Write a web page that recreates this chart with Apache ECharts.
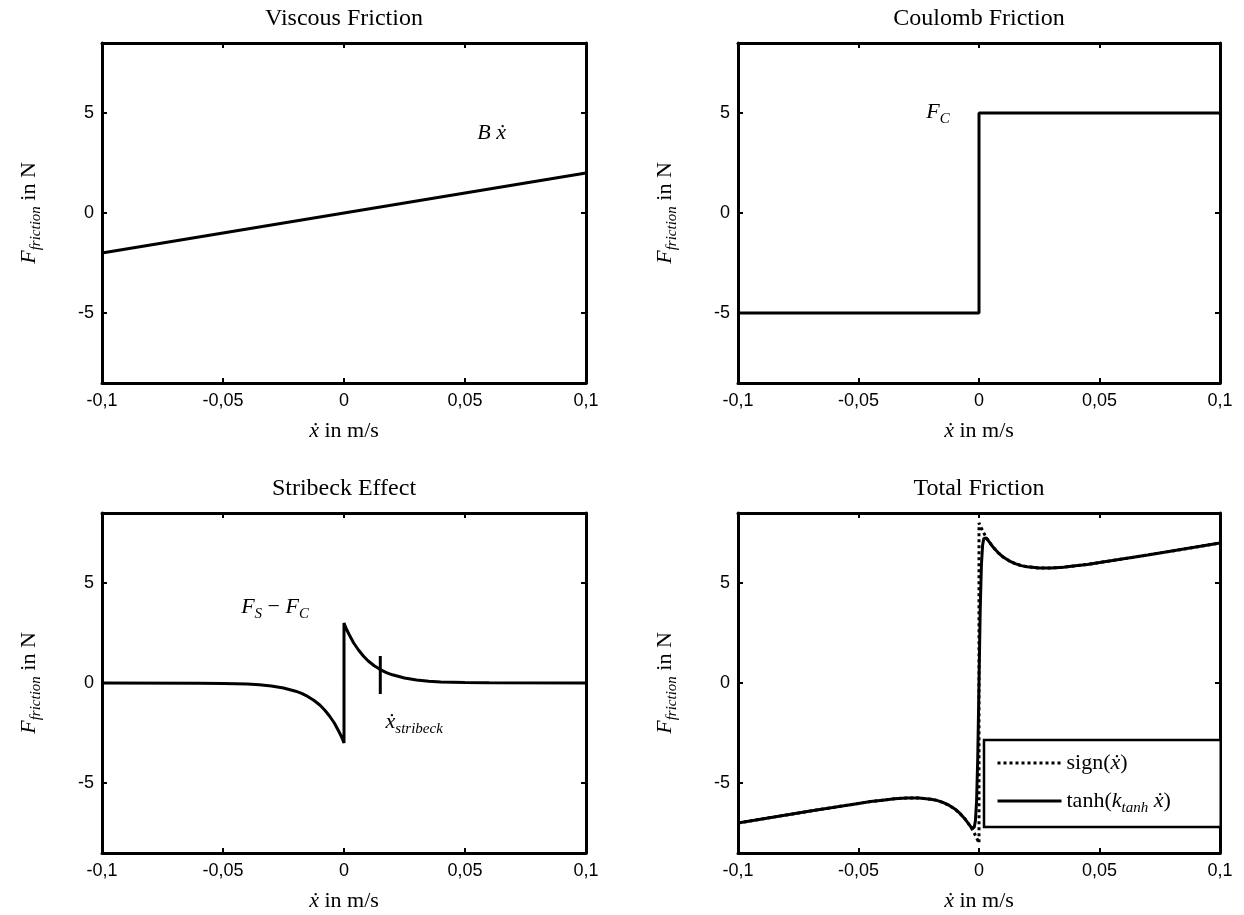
<!DOCTYPE html>
<html><head><meta charset="utf-8">
<script src="https://cdn.jsdelivr.net/npm/echarts@6/dist/echarts.min.js"></script>
<style>html,body{margin:0;padding:0;background:#fff}#c{width:1244px;height:915px}</style>
</head><body><div id="c"></div>
<script>
// ---------- data ----------
const titles = ['Viscous Friction', 'Coulomb Friction', 'Stribeck Effect', 'Total Friction'];
const xTickValues = [-0.1, -0.05, 0, 0.05, 0.1];
const xTickLabels = ['-0,1', '-0,05', '0', '0,05', '0,1'];
const yTickValues = [-5, 0, 5];
const yTickLabels = ['-5', '0', '5'];

const viscousX = [-0.1, 0.1];
const viscousY = [-2, 2];

const coulombX = [-0.1, 0, 0, 0.1];
const coulombY = [-5, -5, 5, 5];

const stribeckX = [-0.1, -0.06, -0.05, -0.04, -0.035, -0.03, -0.025, -0.02, -0.0175, -0.015, -0.0125, -0.01, -0.008, -0.006, -0.004, -0.002, -0.001, 0,
                   0, 0.001, 0.002, 0.004, 0.006, 0.008, 0.01, 0.0125, 0.015, 0.0175, 0.02, 0.025, 0.03, 0.035, 0.04, 0.05, 0.06, 0.1];
const stribeckY = [0, -0.01, -0.02, -0.05, -0.09, -0.15, -0.25, -0.41, -0.52, -0.67, -0.86, -1.1, -1.35, -1.65, -2.0, -2.45, -2.7, -3.0,
                   3.0, 2.7, 2.45, 2.0, 1.65, 1.35, 1.1, 0.86, 0.67, 0.52, 0.41, 0.25, 0.15, 0.09, 0.05, 0.02, 0.01, 0];
const stribeckMarkX = [0.015, 0.015];
const stribeckMarkY = [1.35, -0.55];

const totalTanhX = [-0.1, -0.09, -0.08, -0.07, -0.06, -0.05, -0.045, -0.04, -0.035, -0.03, -0.025, -0.02, -0.0175, -0.015, -0.0125, -0.01, -0.008, -0.006, -0.004, -0.003, -0.0025, -0.002, -0.0015, -0.001, -0.0005, 0,
                    0.0005, 0.001, 0.0015, 0.002, 0.0025, 0.003, 0.004, 0.006, 0.008, 0.01, 0.0125, 0.015, 0.0175, 0.02, 0.025, 0.03, 0.035, 0.04, 0.045, 0.05, 0.06, 0.07, 0.08, 0.09, 0.1];
const totalTanhY = [-7.0, -6.8, -6.6, -6.4, -6.21, -6.02, -5.93, -5.86, -5.79, -5.75, -5.75, -5.81, -5.87, -5.97, -6.11, -6.3, -6.51, -6.77, -7.09, -7.25, -7.29, -7.23, -6.9, -5.9, -3.64, 0,
                    3.64, 5.9, 6.9, 7.23, 7.29, 7.25, 7.09, 6.77, 6.51, 6.3, 6.11, 5.97, 5.87, 5.81, 5.75, 5.75, 5.79, 5.86, 5.93, 6.02, 6.21, 6.4, 6.6, 6.8, 7.0];

const totalSignX = [-0.1, -0.09, -0.08, -0.07, -0.06, -0.05, -0.045, -0.04, -0.035, -0.03, -0.025, -0.02, -0.0175, -0.015, -0.0125, -0.01, -0.008, -0.006, -0.004, -0.003, -0.002, -0.001, 0,
                    0, 0.001, 0.002, 0.003, 0.004, 0.006, 0.008, 0.01, 0.0125, 0.015, 0.0175, 0.02, 0.025, 0.03, 0.035, 0.04, 0.045, 0.05, 0.06, 0.07, 0.08, 0.09, 0.1];
const totalSignY = [-7.0, -6.8, -6.6, -6.4, -6.21, -6.02, -5.93, -5.86, -5.79, -5.75, -5.75, -5.81, -5.87, -5.97, -6.11, -6.3, -6.51, -6.77, -7.09, -7.28, -7.5, -7.74, -8.0,
                    8.0, 7.74, 7.5, 7.28, 7.09, 6.77, 6.51, 6.3, 6.11, 5.97, 5.87, 5.81, 5.75, 5.75, 5.79, 5.86, 5.93, 6.02, 6.21, 6.4, 6.6, 6.8, 7.0];

const annGrid = [0, 1, 2, 2];
const annX = [0.061, -0.017, -0.0285, 0.029];
const annY = [4.0, 5.05, 3.8, -1.95];
const annText = ['{i|B ẋ}', '{i|F}{s|C}', '{i|F}{s|S}{n| − }{i|F}{s|C}', '{i|ẋ}{s|stribeck}'];

const legendNames = ['sign', 'tanh'];
const legendTexts = ['{n|sign(}{i|ẋ}{n|)}', '{n|tanh(}{i|k}{s|tanh}{n| }{i|ẋ}{n|)}'];

// ---------- styles ----------
const SERIF = 'Liberation Serif';
const SANS = 'Liberation Sans';
const rich = {
  i: {fontFamily: SERIF, fontStyle: 'italic', fontSize: 22, lineHeight: 30, color: '#000'},
  n: {fontFamily: SERIF, fontSize: 22, lineHeight: 30, color: '#000'},
  s: {fontFamily: SERIF, fontStyle: 'italic', fontSize: 15, lineHeight: 16, verticalAlign: 'bottom', color: '#000'}
};
const grids = [
  {left: 102, top: 43, width: 484, height: 340},
  {left: 738, top: 43, width: 482, height: 340},
  {left: 102, top: 513, width: 484, height: 340},
  {left: 738, top: 513, width: 482, height: 340}
];
const pair = (xs, ys) => xs.map((x, i) => [x, ys[i]]);
const fmtX = v => { const i = xTickValues.findIndex(t => Math.abs(t - v) < 1e-9); return i >= 0 ? xTickLabels[i] : ''; };
const fmtY = v => { const i = yTickValues.findIndex(t => Math.abs(t - v) < 1e-9); return i >= 0 ? yTickLabels[i] : ''; };

const axLine = {show: true, onZero: false, lineStyle: {color: '#000', width: 3}};
const xAxes = [], yAxes = [];
grids.forEach((g, k) => {
  xAxes.push({
    type: 'value', gridIndex: k, position: 'bottom', min: -0.1, max: 0.1, interval: 0.05,
    axisLine: axLine, splitLine: {show: false},
    axisTick: {inside: true, length: 5, lineStyle: {color: '#000', width: 2}},
    axisLabel: {formatter: fmtX, fontFamily: SANS, fontSize: 18, color: '#000', margin: 9, showMinLabel: true, showMaxLabel: true},
    name: '{i|ẋ}{n| in m/s}', nameLocation: 'middle', nameGap: 33,
    nameTextStyle: {rich: rich}
  });
});
grids.forEach((g, k) => {
  xAxes.push({
    type: 'value', gridIndex: k, position: 'top', min: -0.1, max: 0.1, interval: 0.05,
    axisLine: axLine, splitLine: {show: false},
    axisTick: {inside: true, length: 5, lineStyle: {color: '#000', width: 2}},
    axisLabel: {show: false},
    name: titles[k], nameLocation: 'middle', nameGap: 12,
    nameTextStyle: {fontFamily: SERIF, fontSize: 24, color: '#000'}
  });
});
grids.forEach((g, k) => {
  yAxes.push({
    type: 'value', gridIndex: k, position: 'left', min: -8.5, max: 8.5,
    axisLine: axLine, splitLine: {show: false},
    axisTick: {inside: true, length: 5, customValues: yTickValues, lineStyle: {color: '#000', width: 2}},
    axisLabel: {customValues: yTickValues, formatter: fmtY, fontFamily: SANS, fontSize: 18, color: '#000', margin: 8},
    name: '{i|F}{s|friction}{n| in N}', nameLocation: 'middle', nameGap: 58,
    nameTextStyle: {rich: rich}
  });
});
grids.forEach((g, k) => {
  yAxes.push({
    type: 'value', gridIndex: k, position: 'right', min: -8.5, max: 8.5,
    axisLine: axLine, splitLine: {show: false},
    axisTick: {inside: true, length: 5, customValues: yTickValues, lineStyle: {color: '#000', width: 2}},
    axisLabel: {show: false}
  });
});

const lineSeries = (name, k, data, type) => ({
  name: name, type: 'line', xAxisIndex: k, yAxisIndex: k, data: data,
  symbol: 'none', silent: true, animation: false,
  lineStyle: {color: '#000', width: 3, type: type || 'solid'},
  itemStyle: {color: '#000'}
});

const series = [
  lineSeries('viscous', 0, pair(viscousX, viscousY)),
  lineSeries('coulomb', 1, pair(coulombX, coulombY)),
  lineSeries('stribeck', 2, pair(stribeckX, stribeckY)),
  lineSeries('stribeckMark', 2, pair(stribeckMarkX, stribeckMarkY)),
  lineSeries('sign', 3, pair(totalSignX, totalSignY), 'dotted'),
  lineSeries('tanh', 3, pair(totalTanhX, totalTanhY))
];
annText.forEach((t, j) => {
  const k = annGrid[j];
  series.push({
    type: 'scatter', xAxisIndex: k, yAxisIndex: k, silent: true, animation: false,
    symbol: 'circle', symbolSize: 1, itemStyle: {color: 'rgba(255,255,255,0)'},
    data: [[annX[j], annY[j]]],
    label: {show: true, position: 'inside', formatter: t, rich: rich, color: '#000', opacity: 1, textBorderWidth: 0}
  });
});

const chart = echarts.init(document.getElementById('c'), null, {renderer: 'canvas'});
chart.setOption({
  animation: false,
  backgroundColor: '#fff',
  grid: grids,
  xAxis: xAxes,
  yAxis: yAxes,
  legend: {
    data: legendNames, orient: 'vertical', left: 984, top: 740,
    padding: [12, 50, 11, 12], itemGap: 16, itemWidth: 64, itemHeight: 14,
    borderColor: '#000', borderWidth: 2.5, backgroundColor: '#fff', borderRadius: 0,
    itemStyle: {color: 'rgba(255,255,255,0)', borderWidth: 0, opacity: 0},
    lineStyle: {width: 3},
    formatter: name => legendTexts[legendNames.indexOf(name)],
    textStyle: {rich: rich}
  },
  series: series
});
</script>
</body></html>
